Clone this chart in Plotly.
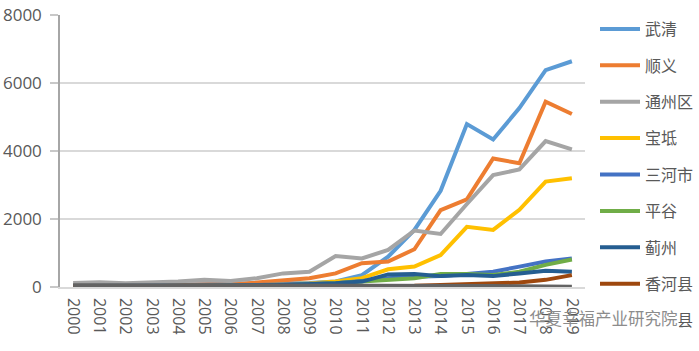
import plotly.graph_objects as go

years = [str(y) for y in range(2000, 2020)]

names = ["武清", "顺义", "通州区", "宝坻", "三河市", "平谷", "蓟州", "香河县", "大厂县"]
colors = ["#5B9BD5", "#ED7D31", "#A5A5A5", "#FFC000", "#4472C4", "#70AD47", "#255E91", "#9E480E", "#636363"]

wuqing   = [60, 70, 60, 60, 70, 80, 80, 90, 100, 120, 160, 350, 890, 1680, 2830, 4790, 4340, 5260, 6380, 6640]
shunyi   = [30, 40, 40, 50, 60, 70, 80, 130, 200, 260, 400, 700, 750, 1110, 2260, 2580, 3780, 3640, 5450, 5090]
tongzhou = [120, 140, 110, 130, 160, 210, 180, 260, 400, 450, 910, 840, 1090, 1660, 1560, 2440, 3290, 3460, 4290, 4050]
baodi    = [20, 20, 20, 30, 30, 40, 40, 50, 70, 100, 160, 260, 520, 600, 940, 1770, 1680, 2270, 3100, 3200]
sanhe    = [20, 20, 20, 20, 30, 30, 40, 60, 70, 90, 110, 180, 260, 300, 320, 380, 450, 600, 750, 840]
pinggu   = [20, 20, 20, 20, 20, 30, 30, 40, 50, 70, 110, 160, 210, 260, 380, 380, 350, 450, 650, 810]
jizhou   = [30, 30, 30, 30, 30, 40, 40, 50, 60, 80, 110, 160, 370, 380, 320, 350, 320, 400, 480, 450]
xianghe  = [20, 20, 20, 20, 20, 20, 20, 20, 30, 30, 30, 30, 30, 40, 60, 90, 110, 130, 210, 350]
dachang  = [50, 50, 50, 50, 50, 50, 50, 50, 50, 50, 50, 50, 50, 50, 40, 40, 30, 20, 10, 10]

series = [wuqing, shunyi, tongzhou, baodi, sanhe, pinggu, jizhou, xianghe, dachang]

yticks = [0, 2000, 4000, 6000, 8000]

FONT = "Open Sans, Noto Sans CJK SC, sans-serif"

fig = go.Figure()
for i, (n, c, v) in enumerate(zip(names, colors, series)):
    fig.add_trace(go.Scatter(
        x=years, y=v, name=n, mode="lines",
        line=dict(color=c, width=4),
        legendgroup=f"g{i}",
    ))

def px_x(p):
    return (p - 60) / 525.0

def px_y(p):
    return (287 - p) / 272.0

fig.update_layout(
    width=699, height=351,
    margin=dict(l=60, r=114, t=15, b=64, autoexpand=False),
    plot_bgcolor="white", paper_bgcolor="white",
    font=dict(family=FONT, color="#595959", size=16),
    showlegend=True,
    legend=dict(
        xref="container", yref="container",
        x=595 / 699, xanchor="left", y=1 - 12 / 351, yanchor="top",
        traceorder="grouped",
        tracegroupgap=12.6,
        font=dict(size=16, color="#595959"),
        bgcolor="rgba(0,0,0,0)",
        itemwidth=40,
        maxheight=400,
    ),
    xaxis=dict(
        type="category",
        range=[-0.5, 19.5],
        tickangle=90,
        tickfont=dict(size=16, color="#595959"),
        ticklabelstandoff=6,
        showgrid=False,
        showline=True, linecolor="#d9d9d9", linewidth=1.5,
        ticks="",
    ),
    yaxis=dict(
        range=[0, 8000],
        tickvals=yticks,
        tickfont=dict(size=17, color="#595959"),
        ticklabelstandoff=5,
        showgrid=True, gridcolor="#d9d9d9", gridwidth=1.5,
        showline=True, linecolor="#a6a6a6", linewidth=1.5,
        ticks="outside", ticklen=8, tickcolor="#c8c8c8", tickwidth=1.5,
        zeroline=False,
    ),
    annotations=[
        dict(
            text="华夏幸福",
            xref="paper", yref="paper",
            x=px_x(527), y=px_y(318), xanchor="left", yanchor="middle",
            showarrow=False,
            font=dict(size=16.5, color="#8c8c8c", family=FONT),
        ),
        dict(
            text="产业研究院",
            xref="paper", yref="paper",
            x=px_x(594), y=px_y(318), xanchor="left", yanchor="middle",
            showarrow=False, borderpad=0,
            font=dict(size=16.5, color="#8c8c8c", family=FONT),
            bgcolor="white",
        ),
    ],
)

fig.write_html("out.html")
